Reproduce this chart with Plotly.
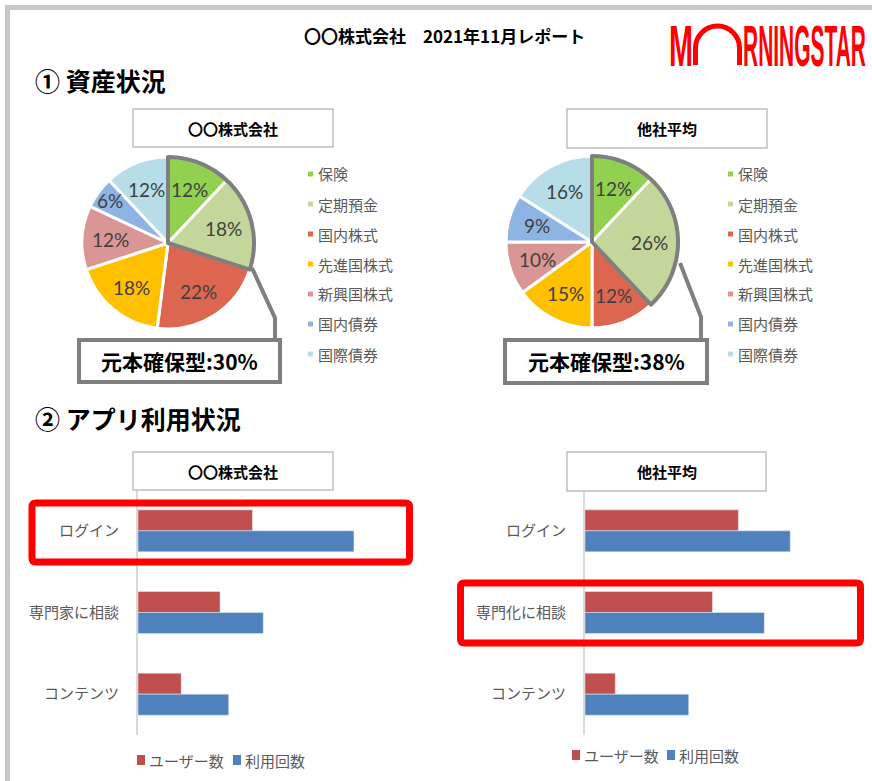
import math
import plotly.graph_objects as go

W, H = 872, 781

# ---- data ----
asset_classes = ["保険", "定期預金", "国内株式", "先進国株式", "新興国株式", "国内債券", "国際債券"]
asset_colors = ["#92D050", "#C4D79B", "#DD6651", "#FFC000", "#DA9694", "#8DB4E2", "#B7DEE8"]
company_alloc = [12, 18, 22, 18, 12, 6, 12]
peer_alloc = [12, 26, 12, 15, 10, 9, 16]
principal_guaranteed = ["保険", "定期預金"]

company_name = "〇〇株式会社"
peer_name = "他社平均"

company_usage_categories = ["ログイン", "専門家に相談", "コンテンツ"]
peer_usage_categories = ["ログイン", "専門化に相談", "コンテンツ"]
usage_series = ["ユーザー数", "利用回数"]
company_users = [53, 38, 20]
company_sessions = [100, 58, 42]
peer_users = [71, 59, 14]
peer_sessions = [95, 83, 48]

JP = "Noto Sans CJK JP"
NUM = "Lato, Noto Sans"
GRAY_TEXT = "#595959"


def fx(x):
    return x / W


def fy(y):
    return 1 - y / H


fig = go.Figure()
shapes = []
annotations = []


def box(x0, y0, x1, y1, color, width, fill="white"):
    shapes.append(dict(type="rect", xref="paper", yref="paper",
                       x0=fx(x0), x1=fx(x1), y0=fy(y1), y1=fy(y0),
                       line=dict(color=color, width=width), fillcolor=fill, layer="above"))


def swatch(x0, y0, x1, y1, color):
    shapes.append(dict(type="rect", xref="paper", yref="paper",
                       x0=fx(x0), x1=fx(x1), y0=fy(y1), y1=fy(y0),
                       line=dict(width=0), fillcolor=color, layer="above"))


def seg(points, color, width):
    path = "M " + " L ".join(f"{fx(x):.5f},{fy(y):.5f}" for x, y in points)
    shapes.append(dict(type="path", xref="paper", yref="paper", path=path,
                       line=dict(color=color, width=width), layer="above"))


def text(x, y, s, size, color="black", xanchor="center", family=JP, bold=False):
    annotations.append(dict(x=fx(x), y=fy(y), xref="paper", yref="paper", text=f"<b>{s}</b>" if bold else s,
                            showarrow=False, xanchor=xanchor, yanchor="middle",
                            font=dict(size=size, color=color, family=family)))


# ---- allocation pies ----
def add_pie(values, cx, cy, R, legend_x):
    dom = dict(x=[fx(cx - R), fx(cx + R)], y=[fy(cy + R), fy(cy - R)])
    fig.add_trace(go.Pie(labels=asset_classes, values=values, sort=False, direction="clockwise",
                         rotation=0, marker=dict(colors=asset_colors, line=dict(color="white", width=3)),
                         textinfo="none", hoverinfo="label+percent", showlegend=False, domain=dom))
    guaranteed = sum(v for lab, v in zip(asset_classes, values) if lab in principal_guaranteed)
    # outline around the principal-guaranteed slices
    fig.add_trace(go.Pie(labels=["元本確保型", "その他"], values=[guaranteed, sum(values) - guaranteed],
                         sort=False, direction="clockwise", rotation=0,
                         marker=dict(colors=["rgba(0,0,0,0)"] * 2,
                                     line=dict(color=["#7F7F7F", "rgba(0,0,0,0)"], width=[4, 0])),
                         textinfo="none", hoverinfo="skip", showlegend=False, domain=dom))
    # percentage labels placed along each slice's mid-angle
    total = sum(values)
    acc = 0
    for v in values:
        mid = (acc + v / 2) / total * 2 * math.pi
        frac = 0.84 if v / total < 0.08 else 0.67
        text(cx + frac * R * math.sin(mid), cy - frac * R * math.cos(mid), f"{v}%", 19,
             color="#404040", family=NUM)
        acc += v
    # legend
    for i, (lab, col) in enumerate(zip(asset_classes, asset_colors)):
        yy = 174 + 30 * i
        swatch(legend_x, yy - 2.5, legend_x + 5, yy + 2.5, col)
        text(legend_x + 8, yy, lab, 15, color=GRAY_TEXT, xanchor="left")
    return guaranteed


g1 = add_pie(company_alloc, 168, 243, 86, 308)
g2 = add_pie(peer_alloc, 592, 242, 86, 728)

# pie title boxes
box(133, 109, 333, 147, "#BFBFBF", 1.5)
text(233, 128, company_name, 15, bold=True)
box(567, 109, 767, 148, "#BFBFBF", 1.5)
text(667, 128.5, peer_name, 15, bold=True)

# callouts to principal-guaranteed share
seg([(252, 268), (275, 318), (275, 340)], "#7F7F7F", 4)
box(79, 340, 280, 382, "#7F7F7F", 4)
text(179.5, 361, f"元本確保型:{g1}%", 21, bold=True)
seg([(680, 263), (701, 317), (701, 340)], "#7F7F7F", 4)
box(505, 340, 707, 383, "#7F7F7F", 4)
text(606, 361.5, f"元本確保型:{g2}%", 21, bold=True)

# ---- app usage bars ----
bar_colors = ["#C0504D", "#4F81BD"]
for cats, series, xa, ya in [
    (company_usage_categories, [company_users, company_sessions], "x", "y"),
    (peer_usage_categories, [peer_users, peer_sessions], "x2", "y2"),
]:
    for name, vals, col in zip(usage_series, series, bar_colors):
        fig.add_trace(go.Bar(name=name, y=cats, x=vals, orientation="h", marker_color=col,
                             xaxis=xa, yaxis=ya, showlegend=False))

axis_y_common = dict(autorange="reversed", showline=True, linecolor="#D9D9D9", linewidth=2,
                     ticks="", showgrid=False, zeroline=False, ticklabelstandoff=14,
                     tickfont=dict(size=15, color=GRAY_TEXT, family=JP), categoryorder="array")

box(133, 452, 333, 490, "#BFBFBF", 1.5)
text(233, 471, company_name, 15, bold=True)
box(567, 452, 766, 491, "#BFBFBF", 1.5)
text(666.5, 471.5, peer_name, 15, bold=True)


# series keys under each bar chart
def bar_key(x_first, x_second, yy):
    for xs, name, col in zip([x_first, x_second], usage_series, bar_colors):
        swatch(xs, yy - 5, xs + 8, yy + 5, col)
        text(xs + 10, yy, name, 15, color=GRAY_TEXT, xanchor="left")


bar_key(137, 233, 760)
bar_key(572, 667, 755)


def rounded_rect(x0, y0, x1, y1, r, color, width):
    pts = [
        f"M {fx(x0 + r):.5f},{fy(y0):.5f}",
        f"L {fx(x1 - r):.5f},{fy(y0):.5f}",
        f"Q {fx(x1):.5f},{fy(y0):.5f} {fx(x1):.5f},{fy(y0 + r):.5f}",
        f"L {fx(x1):.5f},{fy(y1 - r):.5f}",
        f"Q {fx(x1):.5f},{fy(y1):.5f} {fx(x1 - r):.5f},{fy(y1):.5f}",
        f"L {fx(x0 + r):.5f},{fy(y1):.5f}",
        f"Q {fx(x0):.5f},{fy(y1):.5f} {fx(x0):.5f},{fy(y1 - r):.5f}",
        f"L {fx(x0):.5f},{fy(y0 + r):.5f}",
        f"Q {fx(x0):.5f},{fy(y0):.5f} {fx(x0 + r):.5f},{fy(y0):.5f} Z",
    ]
    shapes.append(dict(type="path", xref="paper", yref="paper", path=" ".join(pts),
                       line=dict(color=color, width=width), layer="above"))


rounded_rect(32, 503, 409.5, 562, 4, "#FF0000", 7)
rounded_rect(460.5, 583, 860.5, 643, 4, "#FF0000", 7)

# ---- headings ----
text(444.5, 35, "〇〇株式会社　2021年11月レポート", 17, bold=True)
text(33, 80, "① 資産状況", 25, bold=True, xanchor="left")
text(33, 418, "② アプリ利用状況", 25, bold=True, xanchor="left")

# logo wordmark (the O is drawn as an arch)
annotations.append(dict(x=fx(667), y=fy(46), xref="paper", yref="paper", text="M", showarrow=False,
                        xanchor="left", yanchor="middle",
                        font=dict(size=58, color="#FF0000", family="Liberation Sans", weight="bold")))
annotations.append(dict(x=fx(741), y=fy(46), xref="paper", yref="paper", text="RNINGSTAR", showarrow=False,
                        xanchor="left", yanchor="middle",
                        font=dict(size=58, color="#FF0000", family="Liberation Sans", weight="bold")))
k = 0.5523 * 22
arch = (f"M {fx(695.5):.5f},{fy(65):.5f} L {fx(695.5):.5f},{fy(48):.5f} "
        f"C {fx(695.5):.5f},{fy(48 - k):.5f} {fx(717.5 - k):.5f},{fy(26):.5f} {fx(717.5):.5f},{fy(26):.5f} "
        f"C {fx(717.5 + k):.5f},{fy(26):.5f} {fx(739.5):.5f},{fy(48 - k):.5f} {fx(739.5):.5f},{fy(48):.5f} "
        f"L {fx(739.5):.5f},{fy(65):.5f}")
shapes.append(dict(type="path", xref="paper", yref="paper", path=arch,
                   line=dict(color="#FF0000", width=5), layer="above"))

# page frame
seg([(7.5, H + 5), (7.5, 7.5), (W + 5, 7.5)], "#C8C8C8", 5)

fig.update_layout(
    width=W, height=H, autosize=False,
    margin=dict(l=0, r=0, t=0, b=0),
    paper_bgcolor="white", plot_bgcolor="white",
    barmode="group", bargap=0.486, bargroupgap=0,
    xaxis=dict(domain=[fx(138), fx(420)], range=[0, 130.6], visible=False, anchor="y", fixedrange=True),
    yaxis=dict(domain=[fy(735), fy(490)], anchor="x", categoryarray=company_usage_categories, **axis_y_common),
    xaxis2=dict(domain=[fx(585), fx(860)], range=[0, 127.3], visible=False, anchor="y2", fixedrange=True),
    yaxis2=dict(domain=[fy(735), fy(490)], anchor="x2", categoryarray=peer_usage_categories, **axis_y_common),
    shapes=shapes,
    annotations=annotations,
    showlegend=False,
)

# condense the wordmark letters horizontally
condense_js = """
var gd = document.getElementById('{plot_id}');
var widths = {'M': 24, 'RNINGSTAR': 123};
gd.querySelectorAll('text.annotation-text').forEach(function(t){
  var w = widths[t.textContent];
  if (!w) return;
  var bb = t.getBBox();
  var s = w / bb.width;
  t.setAttribute('transform', 'translate(' + (bb.x * (1 - s)) + ',0) scale(' + s + ',1)');
});
"""

fig.write_html("out.html", post_script=condense_js)
